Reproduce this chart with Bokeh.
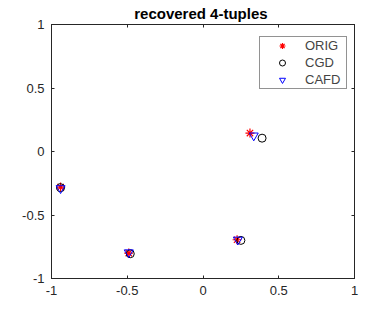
from bokeh.plotting import figure
from bokeh.models import LinearAxis, FixedTicker, Legend, LegendItem, Range1d
from bokeh.embed import file_html
from bokeh.resources import INLINE

# data
orig_x = [-0.94, -0.49, 0.225, 0.31]
orig_y = [-0.28, -0.80, -0.695, 0.145]
cgd_x = [-0.94, -0.48, 0.25, 0.39]
cgd_y = [-0.285, -0.805, -0.70, 0.105]
cafd_x = [-0.94, -0.49, 0.23, 0.335]
cafd_y = [-0.29, -0.795, -0.695, 0.125]
ticks = [-1, -0.5, 0, 0.5, 1]
tick_labels = {-1: "-1", -0.5: "-0.5", 0: "0", 0.5: "0.5", 1: "1"}

FONT = "Liberation Sans"
AX = "#262626"

p = figure(width=392, height=313, output_backend="svg", toolbar_location=None,
           x_range=Range1d(-1, 1), y_range=Range1d(-1, 1),
           x_axis_location=None, y_axis_location=None,
           min_border_left=51, min_border_right=38, min_border_top=24, min_border_bottom=35)
p.title.text = "recovered  4-tuples"
p.title.text_font = FONT
p.title.text_font_size = "15px"
p.title.text_font_style = "bold"
p.title.align = "center"
p.title.text_color = "#000000"
p.title.standoff = 5
p.grid.visible = False
p.outline_line_color = AX
p.background_fill_color = "white"
p.border_fill_color = "white"

def mk(show):
    a = LinearAxis(ticker=FixedTicker(ticks=ticks))
    a.major_tick_in = 3
    a.major_tick_out = 0
    a.minor_tick_line_color = None
    a.axis_line_color = AX
    a.major_tick_line_color = AX
    a.major_label_text_font = FONT
    a.major_label_text_font_size = "13px"
    a.major_label_text_color = AX
    a.major_label_overrides = tick_labels
    a.major_label_standoff = 7
    if not show:
        a.major_label_text_font_size = "0px"
        a.major_label_text_color = None
        a.major_label_standoff = 0
    return a

p.add_layout(mk(True), "below")
p.add_layout(mk(True), "left")
p.add_layout(mk(False), "above")
p.add_layout(mk(False), "right")

r1 = p.scatter(orig_x, orig_y, marker="asterisk", size=9, line_color="red", line_width=1.2)
r2 = p.scatter(cgd_x, cgd_y, marker="circle", size=8, line_color="black", fill_color=None, line_width=1)
r3 = p.scatter(cafd_x, cafd_y, marker="inverted_triangle", size=9, line_color="blue", fill_color=None, line_width=1)

legend = Legend(items=[LegendItem(label="ORIG", renderers=[r1]),
                       LegendItem(label="CGD", renderers=[r2]),
                       LegendItem(label="CAFD", renderers=[r3])],
                location=(208, 189))
legend.label_text_font = FONT
legend.label_text_font_size = "13px"
legend.border_line_color = AX
legend.border_line_width = 1
legend.background_fill_alpha = 1
legend.glyph_width = 42
legend.glyph_height = 15
legend.label_height = 15
legend.label_width = 40
legend.spacing = 2
legend.padding = 1
legend.margin = 0
legend.label_standoff = 2
legend.label_text_baseline = "middle"
p.add_layout(legend)

open("out.html", "w").write(file_html(p, INLINE))
